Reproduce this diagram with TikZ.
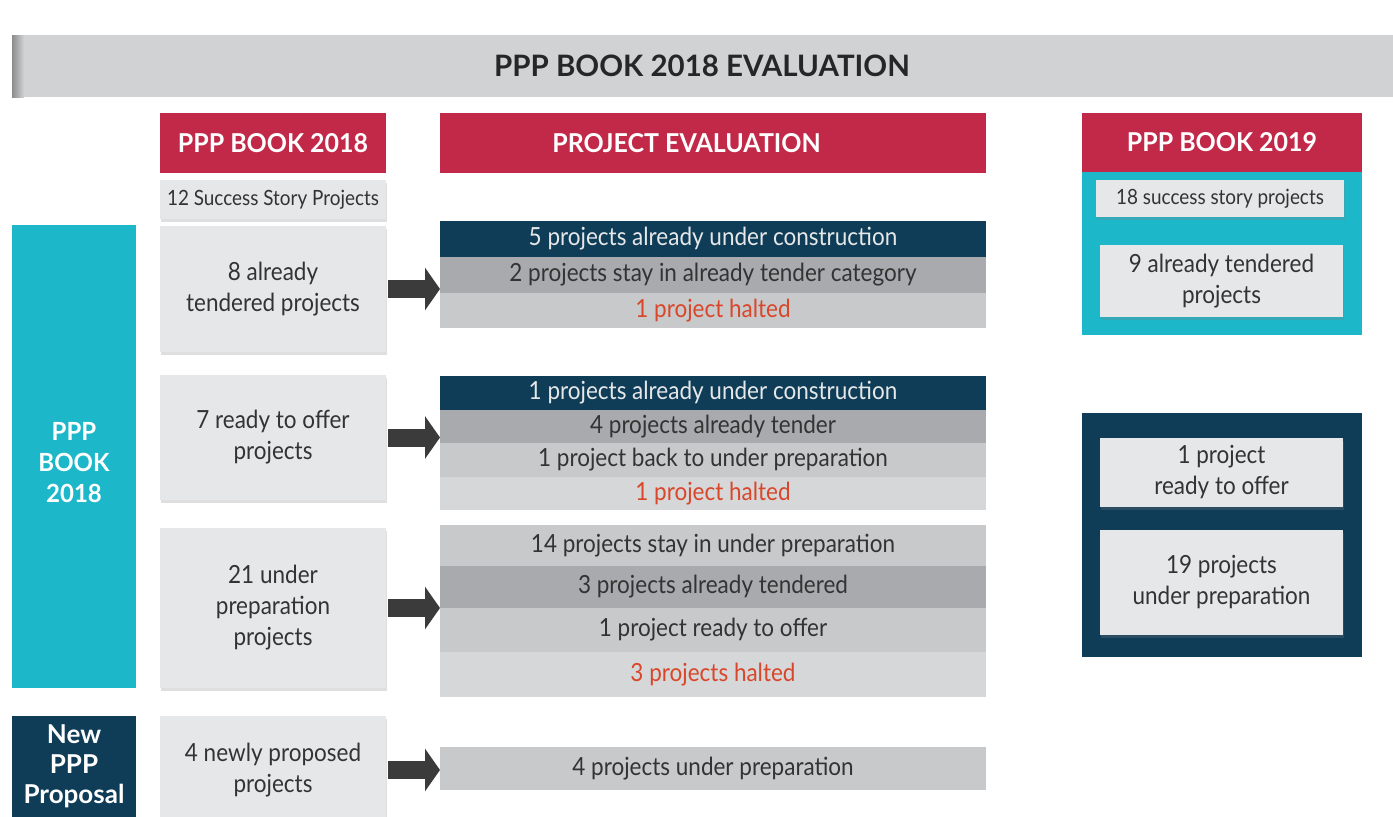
\documentclass[tikz,border=0pt]{standalone}
\usepackage{fontspec}
\setmainfont{Lato}
\newfontfamily\cond[FakeStretch=0.9]{Lato}
\newfontfamily\condb[FakeStretch=0.96]{Lato Bold}
\newfontfamily\boldlato{Lato Bold}
\usetikzlibrary{arrows.meta,shadows}
\definecolor{bannergray}{HTML}{D1D2D4}
\definecolor{hdrred}{HTML}{C22948}
\definecolor{cyanbar}{HTML}{1DB7CA}
\definecolor{navy}{HTML}{0F3D58}
\definecolor{lightbox}{HTML}{E6E7E8}
\definecolor{rowdark}{HTML}{A8AAAD}
\definecolor{rowmid}{HTML}{C8C9CB}
\definecolor{rowlight}{HTML}{D6D7D9}
\definecolor{haltred}{HTML}{D9472B}
\definecolor{arrowgray}{HTML}{3B3B3B}
\definecolor{txtdark}{HTML}{333333}
\begin{document}
\begin{tikzpicture}[x=1pt,y=-1pt,
  base/.style={inner sep=0pt, outer sep=0pt, align=center},
  header/.style={base, fill=hdrred, text=white, font=\condb\fontsize{26}{30}\selectfont},
  sidebar/.style={base, text=white, font=\condb\fontsize{25}{31}\selectfont},
  lbox/.style={base, fill=lightbox, text=txtdark, font=\cond\fontsize{25}{31}\selectfont,
    drop shadow={opacity=0.25, shadow xshift=1pt, shadow yshift=-3pt}},
  sbox/.style={lbox, font=\cond\fontsize{21}{25}\selectfont},
  row/.style={base, minimum width=546pt, text=txtdark, font=\cond\fontsize{25}{28}\selectfont},
  bigarrow/.style={draw=arrowgray, line width=18pt, -{Triangle[length=15pt,width=42pt]}}
]
\useasboundingbox (0,0) rectangle (1393,817);
\fill[white] (0,0) rectangle (1393,817);

% banner
\node[base, fill=bannergray, minimum width=1381pt, minimum height=62pt] (banner) at (702.5,66) {};
\shade[left color=black!45, right color=bannergray] (12,35) rectangle (24,97);
\node[base, text=black!85, font=\boldlato\fontsize{29.5}{32}\selectfont] (bannertxt) at (702,66) {PPP BOOK 2018 EVALUATION};

% headers
\node[header, minimum width=226pt, minimum height=60pt] (h1) at (273,143) {PPP BOOK 2018};
\node[header, minimum width=546pt, minimum height=60pt] (h2) at (713,143) {};
\node[header, fill=none] (h2t) at (686.5,143) {PROJECT EVALUATION};

% left sidebars
\node[sidebar, fill=cyanbar, minimum width=124pt, minimum height=463pt] (sb1) at (74,456.5) {};
\node[sidebar] (sb1t) at (74,463) {PPP\\BOOK\\2018};
\node[sidebar, fill=navy, minimum width=124pt, minimum height=104pt] (sb2) at (74,768) {};
\node[sidebar, font=\boldlato\fontsize{26}{30}\selectfont] (sb2t) at (74,766) {New\\PPP\\Proposal};

% left boxes
\node[sbox, minimum width=226pt, minimum height=39pt] (b0) at (273,199.5) {12 Success Story Projects};
\node[lbox, minimum width=226pt, minimum height=126pt] (b1) at (273,289) {8 already\\tendered projects};
\node[lbox, minimum width=226pt, minimum height=125pt] (b2) at (273,437.5) {7 ready to offer\\projects};
\node[lbox, minimum width=226pt, minimum height=160pt] (b3) at (273,608) {21 under\\preparation\\projects};
\node[lbox, minimum width=226pt, minimum height=108pt] (b4) at (273,770) {4 newly proposed\\projects};

% evaluation rows
\node[row, fill=navy, text=lightbox, minimum height=36pt] (r11) at (713,239) {5 projects already under construction};
\node[row, fill=rowdark, minimum height=36pt] (r12) at (713,275) {2 projects stay in already tender category};
\node[row, fill=rowmid, text=haltred, minimum height=35pt] (r13) at (713,310.5) {1 project halted};

\node[row, fill=navy, text=lightbox, minimum height=34pt] (r21) at (713,393) {1 projects already under construction};
\node[row, fill=rowdark, minimum height=33pt] (r22) at (713,426.5) {4 projects already tender};
\node[row, fill=rowmid, minimum height=34pt] (r23) at (713,460) {1 project back to under preparation};
\node[row, fill=rowlight, text=haltred, minimum height=33pt] (r24) at (713,493.5) {1 project halted};

\node[row, fill=rowmid, minimum height=41pt] (r31) at (713,545.5) {14 projects stay in under preparation};
\node[row, fill=rowdark, minimum height=42pt] (r32) at (713,587) {3 projects already tendered};
\node[row, fill=rowmid, minimum height=44pt] (r33) at (713,630) {1 project ready to offer};
\node[row, fill=rowlight, text=haltred, minimum height=45pt] (r34) at (713,674.5) {3 projects halted};

\node[row, fill=rowmid, minimum height=43pt] (r41) at (713,768.5) {4 projects under preparation};

% arrows
\draw[bigarrow] ([xshift=2pt]b1.east) -- (b1.east -| r12.west);
\draw[bigarrow] ([xshift=2pt]b2.east) -- (b2.east -| r22.west);
\draw[bigarrow] ([xshift=2pt]b3.east) -- (b3.east -| r32.west);
\draw[bigarrow] ([xshift=2pt]b4.east) -- (b4.east -| r41.west);

% right side
\node[base, fill=cyanbar, minimum width=280pt, minimum height=163pt] (c19) at (1222,253.5) {};
\node[header, minimum width=280pt, minimum height=59pt] (h3) at (1222,142.5) {PPP BOOK 2019};
\node[sbox, minimum width=248pt, minimum height=37pt] (s1) at (1220,198.5) {18 success story projects};
\node[lbox, minimum width=243pt, minimum height=72pt] (s2) at (1221.5,281) {9 already tendered\\projects};

\node[base, fill=navy, minimum width=280pt, minimum height=244pt] (n19) at (1222,535) {};
\node[lbox, minimum width=243pt, minimum height=69pt] (n1) at (1221.5,472.5) {1 project\\ready to offer};
\node[lbox, minimum width=243pt, minimum height=105pt] (n2) at (1221.5,582.5) {19 projects\\under preparation};
\end{tikzpicture}
\end{document}
